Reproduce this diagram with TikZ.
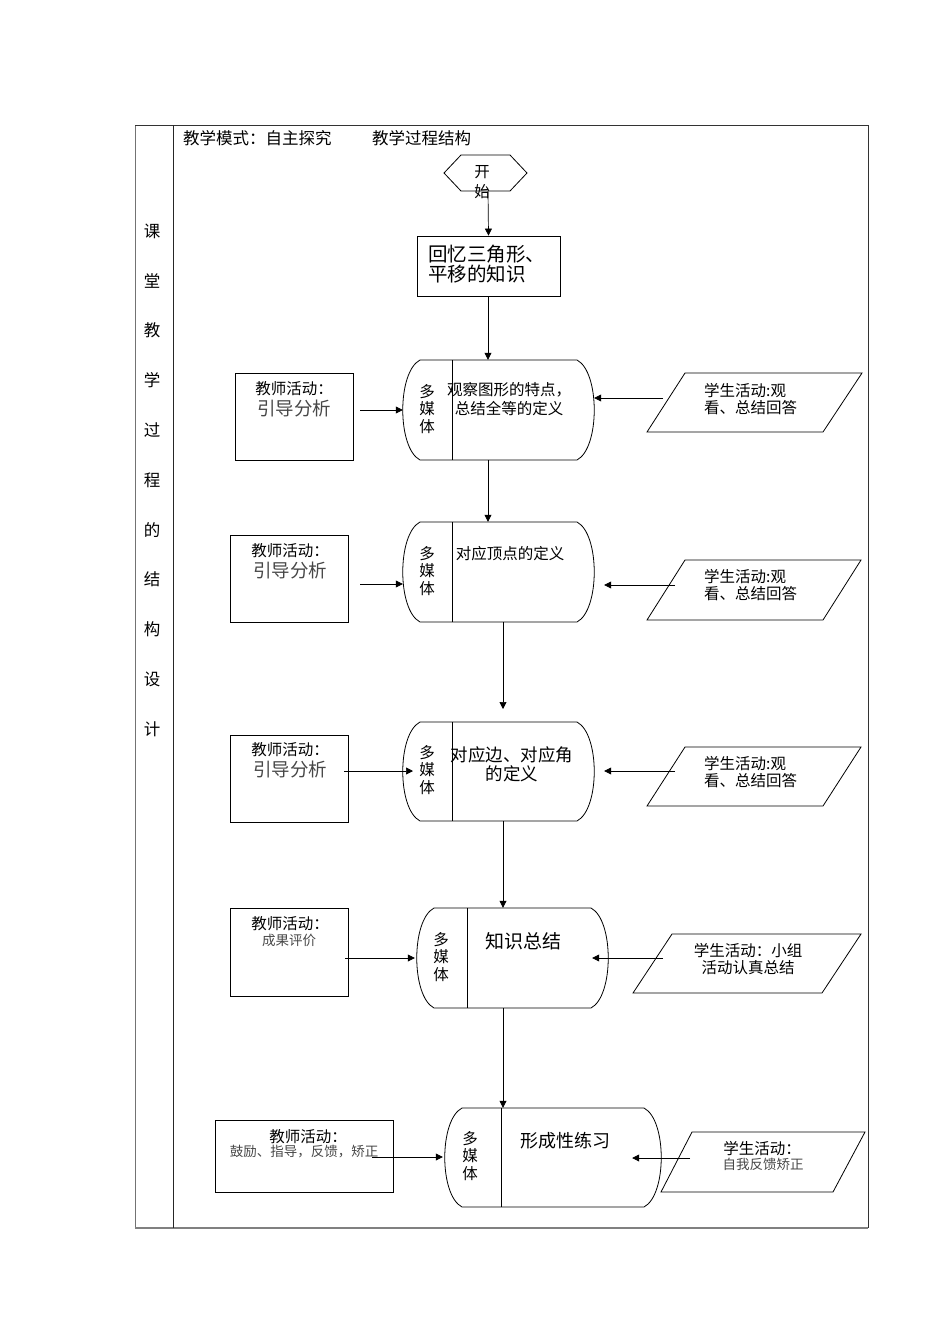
\documentclass[tikz,border=0pt]{standalone}
\usepackage{fontspec}
\setmainfont{Noto Sans CJK SC}
\usetikzlibrary{arrows.meta}
\tikzset{
  x=1pt,y=-1pt,
  arr/.style={-{Triangle[length=7pt,width=7pt]},line width=0.7pt},
  ln/.style={line width=0.8pt},
  tbox/.style={draw,line width=0.8pt,inner sep=0,minimum width=#1},
  anchorbox/.style={inner sep=0,draw=none},
  tx/.style={font=\fontsize{15.5}{17.5}\selectfont,align=center,inner sep=0},
  txl/.style={font=\fontsize{16.5}{18}\selectfont,inner sep=0,anchor=west},
  big/.style={font=\fontsize{19}{20}\selectfont,inner sep=0},
  light/.style={text=black!72},
}
\begin{document}
\begin{tikzpicture}
\useasboundingbox (0,0) rectangle (950,1344);
% table
\draw[line width=1pt,black!55] (135,125) -- (135,1228);
\draw[line width=1.6pt,black!50] (135,1228) -- (868,1228);
\draw[line width=0.9pt,black!80] (135,125) -- (868,125) -- (868,1228);
\draw[line width=0.9pt,black!85] (173,125) -- (173,1228);
\foreach \c [count=\i from 0] in {课,堂,教,学,过,程,的,结,构,设,计}
  \node[tx,font=\fontsize{16.5}{18}\selectfont] (lc\i) at (152,{231+49.8*\i}) {\c};
\node[txl] (hd1) at (183,138) {教学模式：自主探究};
\node[txl] (hd2) at (372,138) {教学过程结构};
% start hexagon
\draw[ln] (444,173) -- (461,155) -- (510,155) -- (527,173) -- (510,191) -- (461,191) -- cycle;
\node[tx] (hs1) at (482,172) {开};
\node[tx] (hs2) at (482,192) {始};
\node[anchorbox,minimum width=83,minimum height=36] (hex) at (485.5,173) {};
% box 1
\node[tbox=143,minimum height=60] (b1) at (488.5,266) {};
\node[big,anchor=west,align=left,font=\fontsize{19.5}{19.5}\selectfont] (b1t) at (428,264) {回忆三角形、\\平移的知识};
\coordinate (hs) at (488,191);
\draw[arr] (hs) -- (b1.north);
% rounded-side shape
\newcommand{\mmshape}[6]{% name, xl, xr, yt, yb, xdiv
  \node[anchorbox,minimum width={#3-#2},minimum height={#5-#4}] (#1) at ({(#2+#3)/2},{(#4+#5)/2}) {};
  \draw[ln] ({#2+17},#4) -- ({#3-17},#4)
     .. controls ({#3+6},{#4+12}) and ({#3+6},{#5-12}) .. ({#3-17},#5)
     -- ({#2+17},#5)
     .. controls ({#2-6},{#5-12}) and ({#2-6},{#4+12}) .. ({#2+17},#4) -- cycle;
  \draw[ln] (#6,#4) -- (#6,#5);
}
% shape 1
\mmshape{s1}{403}{594}{360}{460}{452}
\node[tx] (m1) at (427,409) {多\\媒\\体};
\node[tx,font=\fontsize{15.5}{19}\selectfont] (s1t) at (509,399) {观察图形的特点，\\总结全等的定义};
\coordinate (a1) at (488,296);
\draw[arr] (a1) -- (a1 |- s1.north);
% teacher 1
\node[tbox=118,minimum height=87] (t1) at (294,416.5) {};
\node[tx] (t1a) at (294,389) {教师活动：};
\node[big,light,font=\fontsize{18.5}{20}\selectfont] (t1b) at (294,408) {引导分析};
\coordinate (t1o) at (360,410);
\draw[arr] (t1o) -- (s1.west |- t1o);
% student 1
\draw[ln] (647,432) -- (685,373) -- (862,373) -- (823,432) -- cycle;
\node[anchorbox,minimum width=215,minimum height=59] (p1) at (754.5,402.5) {};
\node[tx,align=left,anchor=west] (p1t) at (704,399) {学生活动:观\\看、总结回答};
\coordinate (p1o) at (663,398);
\draw[arr] (p1o) -- (s1.east |- p1o);
% shape 2
\mmshape{s2}{403}{594}{522}{622}{452}
\coordinate (a2) at (488,460);
\draw[arr] (a2) -- (a2 |- s2.north);
\node[tx] (m2) at (427,571) {多\\媒\\体};
\node[tx] (s2t) at (510,554) {对应顶点的定义};
\node[tbox=118,minimum height=87] (t2) at (289,578.5) {};
\node[tx] (t2a) at (290,551) {教师活动：};
\node[big,light,font=\fontsize{18.5}{20}\selectfont] (t2b) at (290,570) {引导分析};
\coordinate (t2o) at (360,584);
\draw[arr] (t2o) -- (s2.west |- t2o);
\draw[ln] (647,620) -- (685,560) -- (861,560) -- (823,620) -- cycle;
\node[anchorbox,minimum width=214,minimum height=60] (p2) at (754,590) {};
\node[tx,align=left,anchor=west] (p2t) at (704,585) {学生活动:观\\看、总结回答};
\coordinate (p2o) at (675,585);
\draw[arr] (p2o) -- ([xshift=10]s2.east |- p2o);
% shape 3
\mmshape{s3}{403}{594}{722}{821}{452}
\coordinate (a3) at (503,622);
\coordinate (a3e) at (503,709);
\draw[arr] (a3) -- (a3e);
\node[tx] (m3) at (427,770) {多\\媒\\体};
\node[tx,font=\fontsize{17.5}{19}\selectfont] (s3t) at (512,764) {对应边、对应角\\的定义};
\node[tbox=118,minimum height=87] (t3) at (289,778.5) {};
\node[tx] (t3a) at (290,750) {教师活动：};
\node[big,light,font=\fontsize{18.5}{20}\selectfont] (t3b) at (290,769) {引导分析};
\coordinate (t3o) at (344,771);
\coordinate (t3e) at (413,771);
\draw[arr] (t3o) -- (t3e);
\draw[ln] (647,806) -- (685,747) -- (861,747) -- (823,806) -- cycle;
\node[anchorbox,minimum width=214,minimum height=59] (p3) at (754,776.5) {};
\node[tx,align=left,anchor=west] (p3t) at (704,772) {学生活动:观\\看、总结回答};
\coordinate (p3o) at (675,771);
\draw[arr] (p3o) -- ([xshift=10]s3.east |- p3o);
% shape 4
\mmshape{s4}{417}{608}{908}{1008}{467}
\coordinate (a4) at (503,821);
\draw[arr] (a4) -- (a4 |- s4.north);
\node[tx] (m4) at (441,957) {多\\媒\\体};
\node[big] (s4t) at (523,941) {知识总结};
\node[tbox=118,minimum height=88] (t4) at (289,952) {};
\node[tx] (t4a) at (290,924) {教师活动：};
\node[tx,light,font=\fontsize{13.5}{15}\selectfont] (t4b) at (289,940) {成果评价};
\coordinate (t4o) at (345,958);
\draw[arr] (t4o) -- ([xshift=-2]s4.west |- t4o);
\draw[ln] (633,993) -- (672,934) -- (861,934) -- (822,993) -- cycle;
\node[anchorbox,minimum width=228,minimum height=59] (p4) at (747,963.5) {};
\node[tx] (p4t) at (748,959) {学生活动：小组\\活动认真总结};
\coordinate (p4o) at (663,958);
\draw[arr] (p4o) -- ([xshift=-16]s4.east |- p4o);
% shape 5
\mmshape{s5}{445}{661}{1108}{1207}{501}
\coordinate (a5) at (503,1008);
\draw[arr] (a5) -- (a5 |- s5.north);
\node[tx] (m5) at (470,1156) {多\\媒\\体};
\node[big,font=\fontsize{18}{20}\selectfont] (s5t) at (565,1141) {形成性练习};
\node[tbox=178,minimum height=72] (t5) at (304,1156) {};
\node[tx] (t5a) at (308,1137) {教师活动：};
\node[tx,light,font=\fontsize{13.5}{15}\selectfont] (t5b) at (304,1152) {鼓励、指导，反馈，矫正};
\coordinate (t5o) at (372,1157);
\draw[arr] (t5o) -- ([xshift=-2]s5.west |- t5o);
\draw[ln] (661,1192) -- (692,1132) -- (865,1132) -- (833,1192) -- cycle;
\node[anchorbox,minimum width=204,minimum height=60] (p5) at (763,1162) {};
\node[tx] (p5a) at (762,1149) {学生活动：};
\node[tx,light,font=\fontsize{13.5}{15}\selectfont] (p5b) at (763,1164) {自我反馈矫正};
\coordinate (p5o) at (690,1158);
\draw[arr] (p5o) -- ([xshift=-29]s5.east |- p5o);
\end{tikzpicture}
\end{document}
